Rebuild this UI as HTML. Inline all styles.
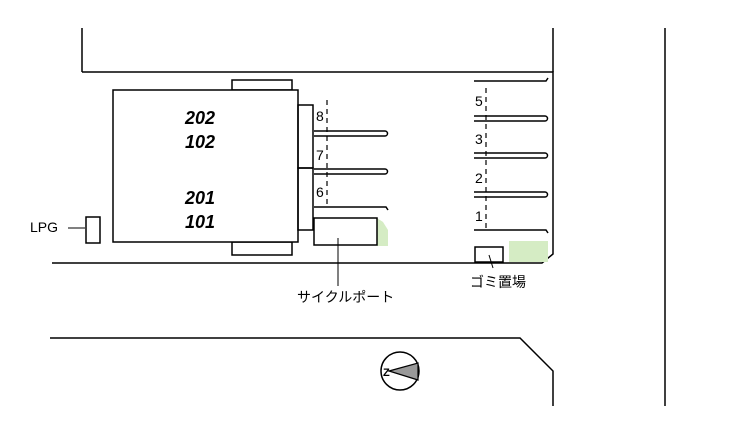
<!DOCTYPE html><html><head><style>body{margin:0;background:#fff}svg{display:block}text{font-family:"Liberation Sans","Noto Sans CJK JP",sans-serif}</style></head><body>
<svg width="737" height="428" viewBox="0 0 737 428" xmlns="http://www.w3.org/2000/svg" fill="none" stroke="#000" stroke-width="1.5">
<line x1="82" y1="28" x2="82" y2="72"/>
<line x1="553" y1="28" x2="553" y2="72"/>
<line x1="665" y1="28" x2="665" y2="406"/>
<polyline points="82,72 553,72 553,254 542,263 52,263"/>
<polyline points="50,338 520,338 553,371 553,406"/>
<polygon points="377,218 383,222 388,230 388,246 377,246" fill="#d5ecc4" stroke="none"/>
<rect x="509" y="241" width="39" height="21" fill="#d5ecc4" stroke="none"/>
<rect x="232" y="80" width="60" height="10"/>
<rect x="232" y="242" width="60" height="13"/>
<rect x="113" y="90" width="185" height="152" fill="#fff"/>
<rect x="298" y="105" width="15" height="63"/>
<rect x="298" y="168" width="15" height="62"/>
<path d="M314,131 H385 a2,2 0 0 1 0,5 H314 M314,169 H385 a2,2 0 0 1 0,5 H314 M314,207 H386 l2,3" />
<rect x="314" y="218" width="63" height="27"/>
<path d="M474,81 H546 l2,-3 M474,116 H545 a2,2 0 0 1 0,5 H474 M474,153 H545 a2,2 0 0 1 0,5 H474 M474,192 H545 a2,2 0 0 1 0,5 H474 M474,230 H546 l2,3"/>
<rect x="475" y="247" width="28" height="15"/>
<g stroke-dasharray="5,4" stroke-width="1.2"><line x1="327" y1="100" x2="327" y2="204"/><line x1="486" y1="88" x2="486" y2="228"/></g>
<rect x="86" y="217" width="14" height="26"/>
<line x1="68" y1="228" x2="85" y2="228" stroke-width="1"/>
<line x1="338" y1="238" x2="338" y2="286" stroke-width="1"/>
<line x1="489" y1="255" x2="493" y2="268" stroke-width="1"/>
<circle cx="400" cy="371" r="19"/>
<polygon points="389,371 418,363 418,380" fill="#999" stroke="#000" stroke-width="1.2"/>
<g stroke="none" fill="#000">
<text x="383" y="376" font-size="11" font-weight="bold">Z</text>
<g font-size="18" font-weight="bold" font-style="italic" text-anchor="middle"><text x="200" y="124">202</text><text x="200" y="148">102</text><text x="200" y="204">201</text><text x="200" y="228">101</text></g>
<g font-size="14"><text x="316" y="121">8</text><text x="316" y="160">7</text><text x="316" y="197">6</text><text x="475" y="106">5</text><text x="475" y="144">3</text><text x="475" y="183">2</text><text x="475" y="221">1</text>
<text x="30" y="232">LPG</text><text x="297" y="302">サイクルポート</text><text x="470" y="287">ゴミ置場</text></g>
</g>
</svg></body></html>
